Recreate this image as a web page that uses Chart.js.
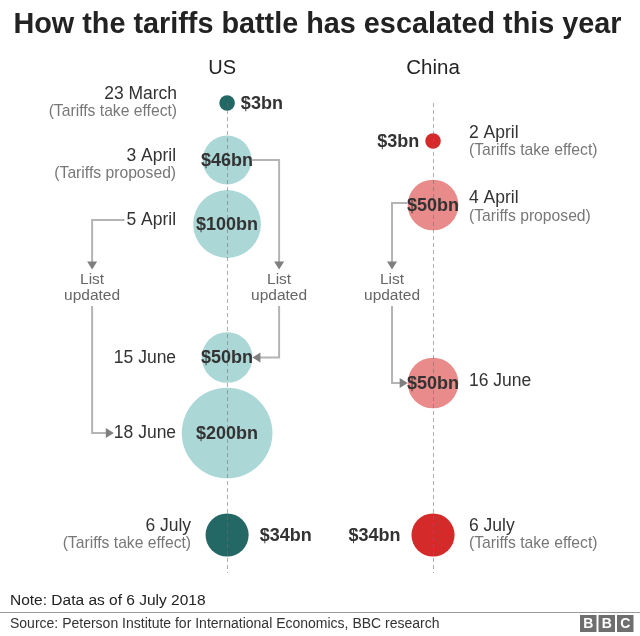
<!DOCTYPE html>
<html>
<head>
<meta charset="utf-8">
<script src="https://cdn.jsdelivr.net/npm/chart.js@4.4.1/dist/chart.umd.min.js"></script>
<style>html,body{margin:0;padding:0;background:#fff}canvas{display:block}</style>
</head>
<body>
<canvas id="c" width="640" height="636"></canvas>
<script>
// ---------- data ----------
const titleText = 'How the tariffs battle has escalated this year';
const countries = ['US', 'China'];

const usDates    = ['23 March', '3 April', '5 April', '15 June', '18 June', '6 July'];
const usNotes    = ['(Tariffs take effect)', '(Tariffs proposed)', '', '', '', '(Tariffs take effect)'];
const usValues   = [3, 46, 100, 50, 200, 34];            // $bn
const usStatus   = ['effect', 'proposed', 'proposed', 'proposed', 'proposed', 'effect'];
const usTimeline = [0.46, 1.6, 2.88, 5.55, 7.06, 9.1];   // position on the timeline

const cnDates    = ['2 April', '4 April', '16 June', '6 July'];
const cnNotes    = ['(Tariffs take effect)', '(Tariffs proposed)', '', '(Tariffs take effect)'];
const cnValues   = [3, 50, 50, 34];                       // $bn
const cnStatus   = ['effect', 'proposed', 'proposed', 'effect'];
const cnTimeline = [1.22, 2.5, 6.06, 9.1];

const noteText   = 'Note: Data as of 6 July 2018';
const sourceText = 'Source: Peterson Institute for International Economics, BBC research';

// ---------- styling helpers ----------
const FONT = '"Liberation Sans", Arial, Helvetica, sans-serif';
const rad = v => 4.9 * Math.pow(v, 0.42);
const fmt = v => '$' + v + 'bn';
const usCol = s => s === 'effect' ? '#236864' : '#acd7d7';
const cnCol = s => s === 'effect' ? '#d42a2a' : '#e98b8b';

function pts(vals, tl, xi) {
  return vals.map((v, i) => ({ x: xi, y: tl[i], r: rad(v), v }));
}

const labelCfg = {
  usGap:   [50, 51, 51, 51, 51, 36],
  usShift: [0, 5, -4, 1, 0, 0],
  cnGap:   [36, 36, 36, 36],
  cnShift: [1, 2.5, -2, 0]
};

function txt(ctx, s, x, y, font, color, align) {
  ctx.font = font; ctx.fillStyle = color; ctx.textAlign = align; ctx.textBaseline = 'middle';
  ctx.fillText(s, x, y);
}

function arrowHead(ctx, x, y, dir) {
  ctx.fillStyle = '#7f7f7f';
  ctx.beginPath();
  if (dir === 'down') { ctx.moveTo(x - 5, y - 8); ctx.lineTo(x + 5, y - 8); ctx.lineTo(x, y); }
  if (dir === 'left') { ctx.moveTo(x + 8, y - 5); ctx.lineTo(x + 8, y + 5); ctx.lineTo(x, y); }
  if (dir === 'right') { ctx.moveTo(x - 8, y - 5); ctx.lineTo(x - 8, y + 5); ctx.lineTo(x, y); }
  ctx.closePath(); ctx.fill();
}

function poly(ctx, ptsArr) {
  ctx.strokeStyle = '#b4b4b4'; ctx.lineWidth = 2; ctx.setLineDash([]);
  ctx.beginPath();
  ptsArr.forEach((p, i) => i ? ctx.lineTo(p[0], p[1]) : ctx.moveTo(p[0], p[1]));
  ctx.stroke();
}

const decor = {
  id: 'decor',
  afterDatasetsDraw(chart) {
    const ctx = chart.ctx, xs = chart.scales.x, ys = chart.scales.y;
    const xU = xs.getPixelForValue(0), xC = xs.getPixelForValue(1);
    ctx.save();

    // title
    txt(ctx, titleText, 317.5, 25, 'bold 28.8px ' + FONT, '#222', 'center');

    // column headers
    txt(ctx, countries[0], xU - 5, 68, '20px ' + FONT, '#222', 'center');
    txt(ctx, countries[1], xC, 68, '20.5px ' + FONT, '#222', 'center');

    // dashed timeline lines
    ctx.strokeStyle = 'rgba(110,110,110,0.55)'; ctx.lineWidth = 1; ctx.setLineDash([4, 3]);
    [xU, xC].forEach(x => {
      ctx.beginPath(); ctx.moveTo(Math.round(x) + 0.5, ys.getPixelForValue(0.46)); ctx.lineTo(Math.round(x) + 0.5, ys.getPixelForValue(9.86)); ctx.stroke();
    });
    ctx.setLineDash([]);

    const mainF = '17.5px ' + FONT, subF = '15.7px ' + FONT, valF = 'bold 18px ' + FONT;

    // value labels & date labels
    const doSide = (vals, tl, status, dates, notes, x, isUS, gaps, shifts) => {
      vals.forEach((v, i) => {
        const y = ys.getPixelForValue(tl[i]), r = rad(v);
        const inside = status[i] === 'proposed';
        if (inside) txt(ctx, fmt(v), x, y + 1, valF, '#333', 'center');
        else {
          const g = r < 10 ? 6 : 11;
          if (isUS) txt(ctx, fmt(v), x + r + g, y + 1, valF, '#333', 'left');
          else txt(ctx, fmt(v), x - r - g, y + 1, valF, '#333', 'right');
        }
        const lx = isUS ? x - gaps[i] : x + gaps[i];
        const al = isUS ? 'right' : 'left';
        const yy = y + shifts[i];
        if (notes[i]) {
          txt(ctx, dates[i], lx, yy - 9, mainF, '#333', al);
          txt(ctx, notes[i], lx, yy + 9, subF, '#777', al);
        } else {
          txt(ctx, dates[i], lx, yy, mainF, '#333', al);
        }
      });
    };
    doSide(usValues, usTimeline, usStatus, usDates, usNotes, xU, true, labelCfg.usGap, labelCfg.usShift);
    doSide(cnValues, cnTimeline, cnStatus, cnDates, cnNotes, xC, false, labelCfg.cnGap, labelCfg.cnShift);

    // "List updated" arrows
    const tipY = ys.getPixelForValue(3.79), l1 = ys.getPixelForValue(4.0), l2 = ys.getPixelForValue(4.32), resume = ys.getPixelForValue(4.52);
    const listLbl = (x) => {
      txt(ctx, 'List', x, l1, '15.5px ' + FONT, '#666', 'center');
      txt(ctx, 'updated', x, l2, '15.5px ' + FONT, '#666', 'center');
    };
    // US: $46bn -> 15 June
    {
      const y0 = ys.getPixelForValue(usTimeline[1]), y1 = ys.getPixelForValue(usTimeline[3]);
      const cx = xU + 52;
      poly(ctx, [[xU + rad(usValues[1]), y0], [cx, y0], [cx, tipY - 7]]);
      arrowHead(ctx, cx, tipY, 'down');
      listLbl(cx);
      poly(ctx, [[cx, resume], [cx, y1], [xU + rad(usValues[3]) + 7, y1]]);
      arrowHead(ctx, xU + rad(usValues[3]), y1, 'left');
    }
    // US: 5 April -> 18 June
    {
      ctx.font = mainF;
      const y0 = ys.getPixelForValue(usTimeline[2]) + labelCfg.usShift[2];
      const startX = xU - labelCfg.usGap[2] - ctx.measureText(usDates[2]).width - 2;
      const y1 = ys.getPixelForValue(usTimeline[4]);
      const endX = xU - labelCfg.usGap[4] - ctx.measureText(usDates[4]).width;
      const cx = xU - 135;
      poly(ctx, [[startX, y0], [cx, y0], [cx, tipY - 7]]);
      arrowHead(ctx, cx, tipY, 'down');
      listLbl(cx);
      poly(ctx, [[cx, resume], [cx, y1], [endX - 7, y1]]);
      arrowHead(ctx, endX, y1, 'right');
    }
    // China: $50bn (4 April) -> 16 June
    {
      const y0 = ys.getPixelForValue(cnTimeline[1]) - 2, y1 = ys.getPixelForValue(cnTimeline[2]);
      const cx = xC - 41;
      poly(ctx, [[xC - rad(cnValues[1]), y0], [cx, y0], [cx, tipY - 7]]);
      arrowHead(ctx, cx, tipY, 'down');
      listLbl(cx);
      poly(ctx, [[cx, resume], [cx, y1], [xC - rad(cnValues[2]) - 7, y1]]);
      arrowHead(ctx, xC - rad(cnValues[2]), y1, 'right');
    }

    // footer
    txt(ctx, noteText, 10, 601, '15.5px ' + FONT, '#222', 'left');
    ctx.strokeStyle = '#9a9a9a'; ctx.lineWidth = 1;
    ctx.beginPath(); ctx.moveTo(0, 612.5); ctx.lineTo(640, 612.5); ctx.stroke();
    txt(ctx, sourceText, 10, 624, '14px ' + FONT, '#333', 'left');
    ['B', 'B', 'C'].forEach((ch, i) => {
      const bx = 580 + i * 18.5;
      ctx.fillStyle = '#6f6f6f'; ctx.fillRect(bx, 615, 16.5, 17);
      txt(ctx, ch, bx + 8.25, 624, 'bold 14px ' + FONT, '#fff', 'center');
    });
    ctx.restore();
  }
};

new Chart(document.getElementById('c'), {
  type: 'bubble',
  data: {
    datasets: [
      { label: countries[0], data: pts(usValues, usTimeline, 0), backgroundColor: usStatus.map(usCol), borderWidth: 0, hoverBorderWidth: 0 },
      { label: countries[1], data: pts(cnValues, cnTimeline, 1), backgroundColor: cnStatus.map(cnCol), borderWidth: 0, hoverBorderWidth: 0 }
    ]
  },
  options: {
    responsive: false,
    animation: false,
    devicePixelRatio: 1,
    clip: false,
    layout: { padding: { left: 50, right: 55, top: 80, bottom: 56 } },
    scales: {
      x: { type: 'linear', min: -0.86, max: 1.738, display: false },
      y: { type: 'linear', min: 0, max: 10, reverse: true, display: false }
    },
    plugins: {
      legend: { display: false },
      tooltip: { enabled: false },
      title: { display: false }
    }
  },
  plugins: [decor]
});
</script>
</body>
</html>
